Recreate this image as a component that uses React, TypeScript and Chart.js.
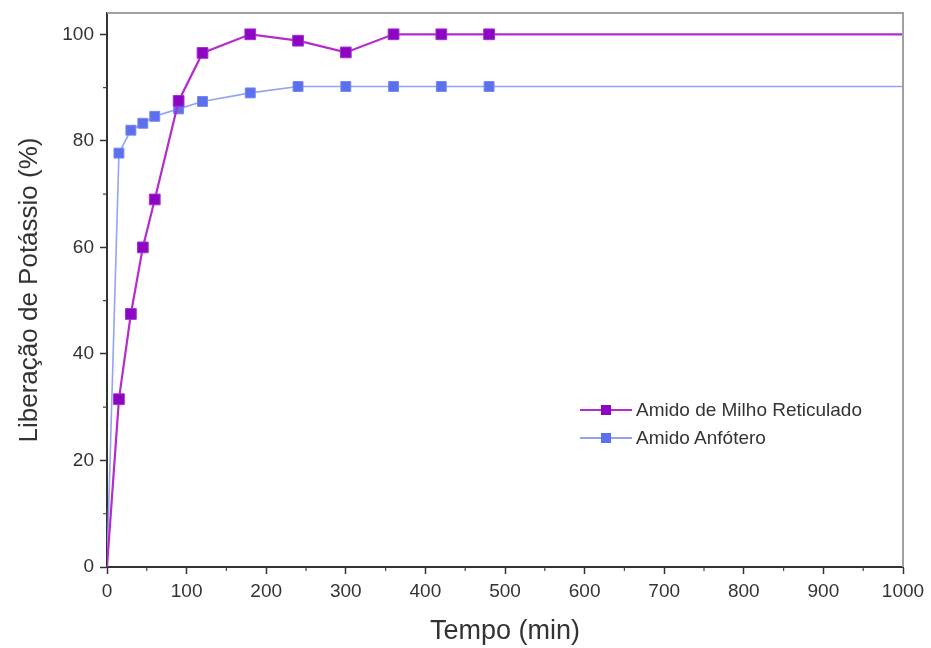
import React, { useEffect, useRef } from "react";
import { Chart, registerables } from "chart.js";

Chart.register(...registerables);

const timeMin = [0, 15, 30, 45, 60, 90, 120, 180, 240, 300, 360, 420, 480, 1000];
const milhoReticulado = [0, 31.5, 47.5, 60, 69, 87.5, 96.5, 100, 98.8, 96.6, 100, 100, 100, 100];
const amidoAnfotero = [0, 77.7, 82, 83.3, 84.6, 86, 87.4, 89, 90.2, 90.2, 90.2, 90.2, 90.2, 90.2];
const seriesNames = ["Amido de Milho Reticulado", "Amido Anfótero"];
const xTicks = [0, 100, 200, 300, 400, 500, 600, 700, 800, 900, 1000];
const yTicks = [0, 20, 40, 60, 80, 100];
const xMinorTicks = [50, 150, 250, 350, 450, 550, 650, 750, 850, 950];
const yMinorTicks = [10, 30, 50, 70, 90];

const PURPLE_LINE = "#b42ccb";
const PURPLE_MARK = "#8d05c2";
const BLUE_LINE = "#93a3f3";
const BLUE_MARK = "#5c70ee";
const FONT = "'Liberation Sans', Arial, sans-serif";

const radii = (n: number) => timeMin.map((t, i) => (i === 0 || i === timeMin.length - 1 ? 0 : n));

const framePlugin = {
  id: "frame",
  afterDraw(chart: any) {
    const { ctx, chartArea } = chart;
    const { left, right, top, bottom } = chartArea;
    ctx.save();
    ctx.strokeStyle = "#a0a0a0";
    ctx.lineWidth = 2;
    ctx.beginPath();
    ctx.moveTo(left, top);
    ctx.lineTo(right, top);
    ctx.lineTo(right, bottom);
    ctx.stroke();
    ctx.strokeStyle = "#444";
    ctx.lineWidth = 1.2;
    const xs = chart.scales.x;
    const ys = chart.scales.y;
    ctx.beginPath();
    xMinorTicks.forEach((v) => {
      const px = xs.getPixelForValue(v);
      ctx.moveTo(px, bottom);
      ctx.lineTo(px, bottom + 4);
    });
    yMinorTicks.forEach((v) => {
      const py = ys.getPixelForValue(v);
      ctx.moveTo(left, py);
      ctx.lineTo(left - 4, py);
    });
    ctx.stroke();
    ctx.restore();
  },
};

export default function App() {
  const ref = useRef<HTMLCanvasElement | null>(null);

  useEffect(() => {
    if (!ref.current) return;
    const chart = new Chart(ref.current, {
      type: "line",
      data: {
        labels: timeMin,
        datasets: [
          {
            label: seriesNames[0],
            data: timeMin.map((t, i) => ({ x: t, y: milhoReticulado[i] })),
            borderColor: PURPLE_LINE,
            backgroundColor: PURPLE_MARK,
            pointBackgroundColor: PURPLE_MARK,
            pointBorderColor: "#a030d0",
            pointBorderWidth: 1,
            borderWidth: 2.2,
            pointStyle: "rect",
            pointRadius: radii(7.6),
            tension: 0,
          },
          {
            label: seriesNames[1],
            data: timeMin.map((t, i) => ({ x: t, y: amidoAnfotero[i] })),
            borderColor: BLUE_LINE,
            backgroundColor: BLUE_MARK,
            pointBackgroundColor: BLUE_MARK,
            pointBorderColor: "#7486f2",
            pointBorderWidth: 1,
            borderWidth: 1.6,
            pointStyle: "rect",
            pointRadius: radii(7),
            tension: 0,
          },
        ],
      },
      options: {
        animation: false,
        responsive: false,
        layout: { padding: { left: 0, top: 13, right: 28, bottom: 0 } },
        plugins: { legend: { display: false }, tooltip: { enabled: false } },
        scales: {
          x: {
            type: "linear",
            min: 0,
            max: 1000,
            afterFit: (s: any) => {
              s.height = 81;
              s.paddingLeft = 0;
              s.paddingRight = 0;
            },
            afterBuildTicks: (s: any) => {
              s.ticks = xTicks.map((v) => ({ value: v }));
            },
            grid: { drawOnChartArea: false, tickLength: 7, tickColor: "#333", tickWidth: 1.5 },
            border: { color: "#333", width: 2 },
            ticks: {
              color: "#333",
              font: { family: FONT, size: 19 },
              padding: 6,
              maxRotation: 0,
              autoSkip: false,
              callback: (v: any) => String(v),
            },
            title: {
              display: true,
              text: "Tempo (min)",
              color: "#333",
              font: { family: FONT, size: 27 },
              padding: { top: 0, bottom: 0 },
            },
          },
          y: {
            type: "linear",
            min: 0,
            max: 104,
            afterFit: (s: any) => {
              s.width = 107;
              s.paddingTop = 0;
              s.paddingBottom = 0;
            },
            afterBuildTicks: (s: any) => {
              s.ticks = yTicks.map((v) => ({ value: v }));
            },
            grid: { drawOnChartArea: false, tickLength: 7, tickColor: "#333", tickWidth: 1.5 },
            border: { color: "#333", width: 2 },
            ticks: { color: "#333", font: { family: FONT, size: 19 }, padding: 6, callback: (v: any) => String(v) },
            title: {
              display: true,
              text: "Liberação de Potássio (%)",
              color: "#333",
              font: { family: FONT, size: 26 },
              padding: { top: 14, bottom: 0 },
            },
          },
        },
      },
      plugins: [framePlugin],
    });
    return () => chart.destroy();
  }, []);

  const legendRow = (line: string, mark: string, size: number, text: string) => (
    <div style={{ display: "flex", alignItems: "center", height: 28 }}>
      <div style={{ position: "relative", width: 52, height: 12, marginRight: 4 }}>
        <div style={{ position: "absolute", left: 0, right: 0, top: 5, height: 2, background: line }} />
        <div
          style={{
            position: "absolute",
            left: 26 - size / 2,
            top: 6 - size / 2,
            width: size,
            height: size,
            background: mark,
          }}
        />
      </div>
      <span style={{ fontFamily: FONT, fontSize: 19, color: "#333" }}>{text}</span>
    </div>
  );

  return (
    <div style={{ position: "fixed", left: 0, top: 0, width: 931, height: 648, background: "#fff" }}>
      <canvas ref={ref} width={931} height={648} style={{ display: "block" }} />
      <div style={{ position: "absolute", left: 580, top: 396 }}>
        {legendRow(PURPLE_LINE, PURPLE_MARK, 10, seriesNames[0])}
        {legendRow(BLUE_LINE, BLUE_MARK, 10, seriesNames[1])}
      </div>
    </div>
  );
}
